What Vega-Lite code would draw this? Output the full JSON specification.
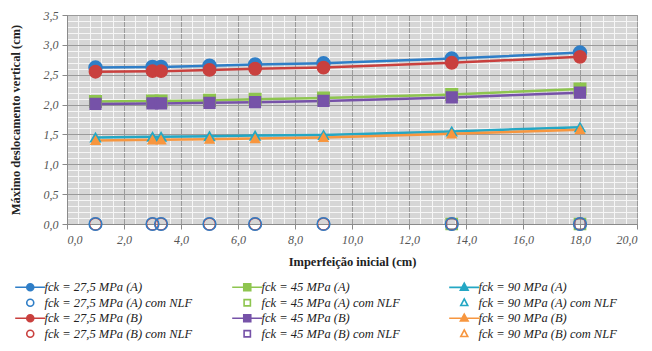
{
  "$schema": "https://vega.github.io/schema/vega-lite/v6.json",
  "autosize": {"type": "none"},
  "padding": {"left": 67, "top": 15, "right": 15, "bottom": 127},
  "width": 570,
  "height": 209,
  "background": "white",
  "config": {
    "view": {"fill": "#d6d6d6", "stroke": "#9a9a9a", "strokeWidth": 1},
    "axis": {
      "labelFont": "Liberation Serif",
      "labelFontStyle": "italic",
      "labelFontSize": 12,
      "labelColor": "#555555",
      "titleFont": "Liberation Serif",
      "titleFontWeight": "bold",
      "titleFontSize": 12.5,
      "titleColor": "#222222",
      "domainColor": "#8a8a8a",
      "tickColor": "#8a8a8a",
      "tickSize": 5
    }
  },
  "data": {
    "values": [
      {"x": 1.0, "y": 2.62, "series": "fck = 27,5 MPa (A)"},
      {"x": 3.0, "y": 2.63, "series": "fck = 27,5 MPa (A)"},
      {"x": 3.3, "y": 2.63, "series": "fck = 27,5 MPa (A)"},
      {"x": 5.0, "y": 2.65, "series": "fck = 27,5 MPa (A)"},
      {"x": 6.6, "y": 2.67, "series": "fck = 27,5 MPa (A)"},
      {"x": 9.0, "y": 2.69, "series": "fck = 27,5 MPa (A)"},
      {"x": 13.5, "y": 2.77, "series": "fck = 27,5 MPa (A)"},
      {"x": 18.0, "y": 2.87, "series": "fck = 27,5 MPa (A)"},
      {"x": 1.0, "y": 2.55, "series": "fck = 27,5 MPa (B)"},
      {"x": 3.0, "y": 2.56, "series": "fck = 27,5 MPa (B)"},
      {"x": 3.3, "y": 2.56, "series": "fck = 27,5 MPa (B)"},
      {"x": 5.0, "y": 2.58, "series": "fck = 27,5 MPa (B)"},
      {"x": 6.6, "y": 2.60, "series": "fck = 27,5 MPa (B)"},
      {"x": 9.0, "y": 2.62, "series": "fck = 27,5 MPa (B)"},
      {"x": 13.5, "y": 2.70, "series": "fck = 27,5 MPa (B)"},
      {"x": 18.0, "y": 2.80, "series": "fck = 27,5 MPa (B)"},
      {"x": 1.0, "y": 2.05, "series": "fck = 45 MPa (A)"},
      {"x": 3.0, "y": 2.06, "series": "fck = 45 MPa (A)"},
      {"x": 3.3, "y": 2.06, "series": "fck = 45 MPa (A)"},
      {"x": 5.0, "y": 2.07, "series": "fck = 45 MPa (A)"},
      {"x": 6.6, "y": 2.09, "series": "fck = 45 MPa (A)"},
      {"x": 9.0, "y": 2.11, "series": "fck = 45 MPa (A)"},
      {"x": 13.5, "y": 2.17, "series": "fck = 45 MPa (A)"},
      {"x": 18.0, "y": 2.26, "series": "fck = 45 MPa (A)"},
      {"x": 1.0, "y": 2.01, "series": "fck = 45 MPa (B)"},
      {"x": 3.0, "y": 2.02, "series": "fck = 45 MPa (B)"},
      {"x": 3.3, "y": 2.02, "series": "fck = 45 MPa (B)"},
      {"x": 5.0, "y": 2.03, "series": "fck = 45 MPa (B)"},
      {"x": 6.6, "y": 2.04, "series": "fck = 45 MPa (B)"},
      {"x": 9.0, "y": 2.06, "series": "fck = 45 MPa (B)"},
      {"x": 13.5, "y": 2.12, "series": "fck = 45 MPa (B)"},
      {"x": 18.0, "y": 2.20, "series": "fck = 45 MPa (B)"},
      {"x": 1.0, "y": 1.45, "series": "fck = 90 MPa (A)"},
      {"x": 3.0, "y": 1.46, "series": "fck = 90 MPa (A)"},
      {"x": 3.3, "y": 1.46, "series": "fck = 90 MPa (A)"},
      {"x": 5.0, "y": 1.47, "series": "fck = 90 MPa (A)"},
      {"x": 6.6, "y": 1.48, "series": "fck = 90 MPa (A)"},
      {"x": 9.0, "y": 1.49, "series": "fck = 90 MPa (A)"},
      {"x": 13.5, "y": 1.55, "series": "fck = 90 MPa (A)"},
      {"x": 18.0, "y": 1.62, "series": "fck = 90 MPa (A)"},
      {"x": 1.0, "y": 1.40, "series": "fck = 90 MPa (B)"},
      {"x": 3.0, "y": 1.41, "series": "fck = 90 MPa (B)"},
      {"x": 3.3, "y": 1.41, "series": "fck = 90 MPa (B)"},
      {"x": 5.0, "y": 1.42, "series": "fck = 90 MPa (B)"},
      {"x": 6.6, "y": 1.43, "series": "fck = 90 MPa (B)"},
      {"x": 9.0, "y": 1.45, "series": "fck = 90 MPa (B)"},
      {"x": 13.5, "y": 1.51, "series": "fck = 90 MPa (B)"},
      {"x": 18.0, "y": 1.58, "series": "fck = 90 MPa (B)"},
      {"x": 13.5, "y": 0, "series": "fck = 45 MPa (B) com NLF"},
      {"x": 18.0, "y": 0, "series": "fck = 45 MPa (B) com NLF"},
      {"x": 13.5, "y": 0, "series": "fck = 45 MPa (A) com NLF"},
      {"x": 18.0, "y": 0, "series": "fck = 45 MPa (A) com NLF"},
      {"x": 1.0, "y": 0, "series": "fck = 27,5 MPa (B) com NLF"},
      {"x": 3.0, "y": 0, "series": "fck = 27,5 MPa (B) com NLF"},
      {"x": 3.3, "y": 0, "series": "fck = 27,5 MPa (B) com NLF"},
      {"x": 5.0, "y": 0, "series": "fck = 27,5 MPa (B) com NLF"},
      {"x": 6.6, "y": 0, "series": "fck = 27,5 MPa (B) com NLF"},
      {"x": 9.0, "y": 0, "series": "fck = 27,5 MPa (B) com NLF"},
      {"x": 13.5, "y": 0, "series": "fck = 27,5 MPa (B) com NLF"},
      {"x": 18.0, "y": 0, "series": "fck = 27,5 MPa (B) com NLF"},
      {"x": 1.0, "y": 0, "series": "fck = 27,5 MPa (A) com NLF"},
      {"x": 3.0, "y": 0, "series": "fck = 27,5 MPa (A) com NLF"},
      {"x": 3.3, "y": 0, "series": "fck = 27,5 MPa (A) com NLF"},
      {"x": 5.0, "y": 0, "series": "fck = 27,5 MPa (A) com NLF"},
      {"x": 6.6, "y": 0, "series": "fck = 27,5 MPa (A) com NLF"},
      {"x": 9.0, "y": 0, "series": "fck = 27,5 MPa (A) com NLF"},
      {"x": 13.5, "y": 0, "series": "fck = 27,5 MPa (A) com NLF"},
      {"x": 18.0, "y": 0, "series": "fck = 27,5 MPa (A) com NLF"}
    ]
  },
  "encoding": {
    "x": {
      "field": "x", "type": "quantitative",
      "scale": {"domain": [0, 20], "nice": false, "zero": false},
      "title": "Imperfeição inicial (cm)",
      "axis": {
        "values": [0,0.4,0.8,1.2,1.6,2,2.4,2.8,3.2,3.6,4,4.4,4.8,5.2,5.6,6,6.4,6.8,7.2,7.6,8,8.4,8.8,9.2,9.6,10,10.4,10.8,11.2,11.6,12,12.4,12.8,13.2,13.6,14,14.4,14.8,15.2,15.6,16,16.4,16.8,17.2,17.6,18,18.4,18.8,19.2,19.6,20],
        "grid": true,
        "gridColor": {"condition": {"test": "abs(datum.value/2 - round(datum.value/2)) < 0.001", "value": "#9a9a9a"}, "value": "#f6f6f6"},
        "tickOpacity": {"condition": {"test": "abs(datum.value/2 - round(datum.value/2)) < 0.001", "value": 1}, "value": 0},
        "labelExpr": "abs(datum.value/2 - round(datum.value/2)) < 0.001 ? replace(format(datum.value, '.1f'), '.', ',') : ''",
        "labelPadding": 5,
        "titlePadding": 10
      }
    },
    "y": {
      "field": "y", "type": "quantitative",
      "scale": {"domain": [0, 3.5], "nice": false},
      "title": "Máximo deslocamento vertical (cm)",
      "axis": {
        "values": [0,0.1,0.2,0.3,0.4,0.5,0.6,0.7,0.8,0.9,1,1.1,1.2,1.3,1.4,1.5,1.6,1.7,1.8,1.9,2,2.1,2.2,2.3,2.4,2.5,2.6,2.7,2.8,2.9,3,3.1,3.2,3.3,3.4,3.5],
        "grid": true,
        "gridColor": {"condition": {"test": "abs(datum.value*2 - round(datum.value*2)) < 0.001", "value": "#9a9a9a"}, "value": "#f6f6f6"},
        "tickOpacity": {"condition": {"test": "abs(datum.value*2 - round(datum.value*2)) < 0.001", "value": 1}, "value": 0},
        "labelExpr": "abs(datum.value*2 - round(datum.value*2)) < 0.001 ? replace(format(datum.value, '.1f'), '.', ',') : ''",
        "labelPadding": 4,
        "titlePadding": 21
      }
    }
  },
  "resolve": {"scale": {"stroke": "independent", "fill": "independent", "shape": "independent", "size": "independent"}},
  "layer": [
    {
      "transform": [{"filter": "indexof(datum.series, 'NLF') < 0"}],
      "mark": {"type": "line", "strokeWidth": 2.5},
      "encoding": {
        "stroke": {
          "field": "series", "type": "nominal", "legend": null,
          "scale": {
            "domain": ["fck = 27,5 MPa (A)", "fck = 27,5 MPa (A) com NLF", "fck = 27,5 MPa (B)", "fck = 27,5 MPa (B) com NLF", "fck = 45 MPa (A)", "fck = 45 MPa (A) com NLF", "fck = 45 MPa (B)", "fck = 45 MPa (B) com NLF", "fck = 90 MPa (A)", "fck = 90 MPa (A) com NLF", "fck = 90 MPa (B)", "fck = 90 MPa (B) com NLF"],
            "range": ["#2f7ec7", "#2f7ec7", "#c9403e", "#c9403e", "#8ec54f", "#8ec54f", "#7652a8", "#7652a8", "#24a7c4", "#24a7c4", "#f7963f", "#f7963f"]
          }
        }
      }
    },
    {
      "mark": {"type": "point", "filled": false, "opacity": 1, "strokeWidth": 1.5},
      "encoding": {
        "stroke": {
          "field": "series", "type": "nominal", "legend": null,
          "scale": {
            "domain": ["fck = 27,5 MPa (A)", "fck = 27,5 MPa (A) com NLF", "fck = 27,5 MPa (B)", "fck = 27,5 MPa (B) com NLF", "fck = 45 MPa (A)", "fck = 45 MPa (A) com NLF", "fck = 45 MPa (B)", "fck = 45 MPa (B) com NLF", "fck = 90 MPa (A)", "fck = 90 MPa (A) com NLF", "fck = 90 MPa (B)", "fck = 90 MPa (B) com NLF"],
            "range": ["#2f7ec7", "#2f7ec7", "#c9403e", "#c9403e", "#8ec54f", "#8ec54f", "#7652a8", "#7652a8", "#24a7c4", "#24a7c4", "#f7963f", "#f7963f"]
          }
        },
        "fill": {
          "field": "series", "type": "nominal", "legend": null,
          "scale": {
            "domain": ["fck = 27,5 MPa (A)", "fck = 27,5 MPa (A) com NLF", "fck = 27,5 MPa (B)", "fck = 27,5 MPa (B) com NLF", "fck = 45 MPa (A)", "fck = 45 MPa (A) com NLF", "fck = 45 MPa (B)", "fck = 45 MPa (B) com NLF", "fck = 90 MPa (A)", "fck = 90 MPa (A) com NLF", "fck = 90 MPa (B)", "fck = 90 MPa (B) com NLF"],
            "range": ["#2f7ec7", "transparent", "#c9403e", "transparent", "#8ec54f", "transparent", "#7652a8", "transparent", "#24a7c4", "transparent", "#f7963f", "transparent"]
          }
        },
        "shape": {
          "field": "series", "type": "nominal", "legend": null,
          "scale": {
            "domain": ["fck = 27,5 MPa (A)", "fck = 27,5 MPa (A) com NLF", "fck = 27,5 MPa (B)", "fck = 27,5 MPa (B) com NLF", "fck = 45 MPa (A)", "fck = 45 MPa (A) com NLF", "fck = 45 MPa (B)", "fck = 45 MPa (B) com NLF", "fck = 90 MPa (A)", "fck = 90 MPa (A) com NLF", "fck = 90 MPa (B)", "fck = 90 MPa (B) com NLF"],
            "range": ["circle", "circle", "circle", "circle", "square", "square", "square", "square", "triangle-up", "triangle-up", "triangle-up", "triangle-up"]
          }
        },
        "size": {
          "field": "series", "type": "nominal", "legend": null,
          "scale": {
            "domain": ["fck = 27,5 MPa (A)", "fck = 27,5 MPa (A) com NLF", "fck = 27,5 MPa (B)", "fck = 27,5 MPa (B) com NLF", "fck = 45 MPa (A)", "fck = 45 MPa (A) com NLF", "fck = 45 MPa (B)", "fck = 45 MPa (B) com NLF", "fck = 90 MPa (A)", "fck = 90 MPa (A) com NLF", "fck = 90 MPa (B)", "fck = 90 MPa (B) com NLF"],
            "range": [170, 70, 180, 125, 160, 80, 180, 160, 140, 100, 160, 100]
          }
        }
      }
    },
    {
      "transform": [{"filter": "datum.x < -100"}],
      "mark": {"type": "point", "filled": true, "opacity": 1, "size": 49, "strokeWidth": 1.5},
      "encoding": {
        "stroke": {
          "field": "series", "type": "nominal",
          "scale": {
            "domain": ["fck = 27,5 MPa (A)", "fck = 27,5 MPa (A) com NLF", "fck = 27,5 MPa (B)", "fck = 27,5 MPa (B) com NLF", "fck = 45 MPa (A)", "fck = 45 MPa (A) com NLF", "fck = 45 MPa (B)", "fck = 45 MPa (B) com NLF", "fck = 90 MPa (A)", "fck = 90 MPa (A) com NLF", "fck = 90 MPa (B)", "fck = 90 MPa (B) com NLF"],
            "range": ["#2f7ec7", "#2f7ec7", "#c9403e", "#c9403e", "#8ec54f", "#8ec54f", "#7652a8", "#7652a8", "#24a7c4", "#24a7c4", "#f7963f", "#f7963f"]
          },
          "legend": {
            "orient": "none",
            "legendX": -43,
            "legendY": 266,
            "title": null,
            "columns": 3,
            "gridAlign": "all",
            "columnPadding": 36,
            "rowPadding": 0.5,
            "padding": 0,
            "labelFont": "Liberation Serif",
            "labelFontStyle": "italic",
            "labelFontSize": 12.5,
            "labelColor": "#222222",
            "labelLimit": 300,
            "labelOffset": 8,
            "symbolSize": 49,
            "symbolOpacity": 1,
            "symbolStrokeWidth": 1.6
          }
        },
        "fill": {
          "field": "series", "type": "nominal",
          "scale": {
            "domain": ["fck = 27,5 MPa (A)", "fck = 27,5 MPa (A) com NLF", "fck = 27,5 MPa (B)", "fck = 27,5 MPa (B) com NLF", "fck = 45 MPa (A)", "fck = 45 MPa (A) com NLF", "fck = 45 MPa (B)", "fck = 45 MPa (B) com NLF", "fck = 90 MPa (A)", "fck = 90 MPa (A) com NLF", "fck = 90 MPa (B)", "fck = 90 MPa (B) com NLF"],
            "range": ["#2f7ec7", "transparent", "#c9403e", "transparent", "#8ec54f", "transparent", "#7652a8", "transparent", "#24a7c4", "transparent", "#f7963f", "transparent"]
          }
        },
        "shape": {
          "field": "series", "type": "nominal",
          "scale": {
            "domain": ["fck = 27,5 MPa (A)", "fck = 27,5 MPa (A) com NLF", "fck = 27,5 MPa (B)", "fck = 27,5 MPa (B) com NLF", "fck = 45 MPa (A)", "fck = 45 MPa (A) com NLF", "fck = 45 MPa (B)", "fck = 45 MPa (B) com NLF", "fck = 90 MPa (A)", "fck = 90 MPa (A) com NLF", "fck = 90 MPa (B)", "fck = 90 MPa (B) com NLF"],
            "range": [
              "M-4.3,0H4.3M-1,0A1,1,0,1,0,1,0A1,1,0,1,0,-1,0Z",
              "M-1,0A1,1,0,1,0,1,0A1,1,0,1,0,-1,0Z",
              "M-4.3,0H4.3M-1,0A1,1,0,1,0,1,0A1,1,0,1,0,-1,0Z",
              "M-1,0A1,1,0,1,0,1,0A1,1,0,1,0,-1,0Z",
              "M-4.3,0H4.3M-1,-1H1V1H-1Z",
              "M-0.9,-0.9H0.9V0.9H-0.9Z",
              "M-4.3,0H4.3M-1,-1H1V1H-1Z",
              "M-0.9,-0.9H0.9V0.9H-0.9Z",
              "M-4.3,0H4.3M0,-1.2L1.1,0.8H-1.1Z",
              "M0,-1.1L1,0.8H-1Z",
              "M-4.3,0H4.3M0,-1.2L1.1,0.8H-1.1Z",
              "M0,-1.1L1,0.8H-1Z"
            ]
          }
        }
      }
    }
  ]
}
